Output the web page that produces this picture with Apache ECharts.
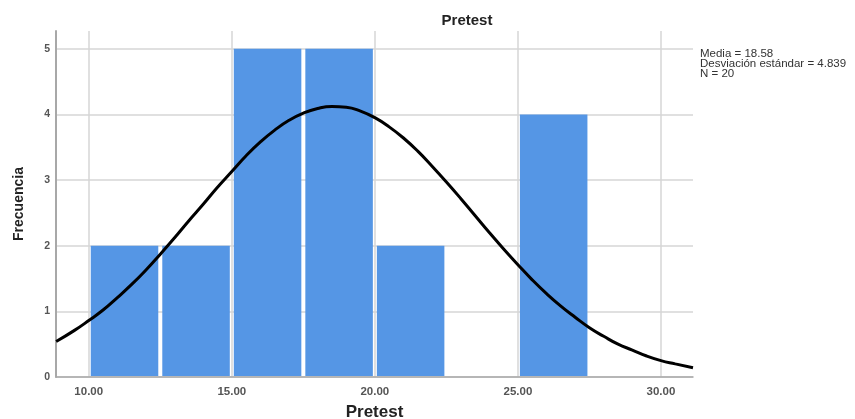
<!DOCTYPE html>
<html>
<head>
<meta charset="utf-8">
<script src="https://cdn.jsdelivr.net/npm/echarts@6/dist/echarts.min.js"></script>
<style>
  html, body { margin: 0; padding: 0; background: #fff; }
  #chart { width: 855px; height: 419px; }
</style>
</head>
<body>
<div id="chart"></div>
<script>
// histogram bins (lower edge, upper edge) and frequencies
const binStart = [10, 12.5, 15, 17.5, 20, 22.5, 25];
const binEnd = [12.5, 15, 17.5, 20, 22.5, 25, 27.5];
const frecuencia = [2, 2, 5, 5, 2, 0, 4];

// normal curve
const curveX = [8.86, 9.5, 10, 10.5, 11, 11.5, 12, 12.5, 13, 13.5, 14, 14.5, 15, 15.5, 16, 16.5, 17, 17.5, 18, 18.5, 19, 19.5, 20,
  20.5, 21, 21.5, 22, 22.5, 23, 23.5, 24, 24.5, 25, 25.5, 26, 26.5, 27, 27.5, 28, 28.5, 29, 29.5, 30, 30.5, 31.12];
const curveY = [0.54, 0.71, 0.86, 1.02, 1.21, 1.41, 1.63, 1.87, 2.12, 2.38, 2.63, 2.89, 3.13, 3.37, 3.58, 3.76, 3.91, 4.02, 4.09, 4.12, 4.11, 4.05, 3.95,
  3.81, 3.64, 3.44, 3.21, 2.97, 2.72, 2.46, 2.2, 1.95, 1.71, 1.48, 1.27, 1.08, 0.91, 0.75, 0.62, 0.5, 0.41, 0.32, 0.25, 0.2, 0.14];

const statsLines = ['Media = 18.58', 'Desviación estándar = 4.839', 'N = 20'];

const myChart = echarts.init(document.getElementById('chart'));

const gridColor = '#d6d6d6';

const options = {
  animation: false,
  title: {
    text: 'Pretest',
    left: 462,
    top: 8,
    textAlign: 'center',
    textStyle: {
      fontFamily: 'Liberation Sans, Arial',
      fontSize: 15,
      fontWeight: 'bold',
      color: '#222'
    }
  },
  grid: {
    left: 56,
    right: 162,
    top: 31,
    bottom: 42,
    outerBoundsMode: 'none'
  },
  xAxis: {
    type: 'value',
    min: 8.855,
    max: 31.12,
    name: 'Pretest',
    nameLocation: 'middle',
    nameGap: 27,
    nameTextStyle: {
      fontFamily: 'Liberation Sans, Arial',
      fontSize: 17,
      fontWeight: 'bold',
      color: '#222'
    },
    axisLine: { show: true, lineStyle: { color: '#a8a8a8', width: 1.5 } },
    axisTick: { show: false },
    axisLabel: {
      showMinLabel: false,
      showMaxLabel: false,
      margin: 9,
      fontFamily: 'Liberation Sans, Arial',
      fontSize: 11.5,
      fontWeight: 'bold',
      color: '#555',
      formatter: v => v.toFixed(2)
    },
    splitLine: {
      show: true,
      showMinLine: false,
      showMaxLine: false,
      lineStyle: { color: gridColor, width: 1.5 }
    }
  },
  yAxis: {
    type: 'value',
    min: 0,
    max: 5.27,
    interval: 1,
    name: 'Frecuencia',
    nameLocation: 'middle',
    nameGap: 30,
    nameTextStyle: {
      fontFamily: 'Liberation Sans, Arial',
      fontSize: 14,
      fontWeight: 'bold',
      color: '#222'
    },
    axisLine: { show: true, lineStyle: { color: '#a8a8a8', width: 2 } },
    axisTick: { show: false },
    axisLabel: {
      showMaxLabel: false,
      margin: 6,
      fontFamily: 'Liberation Sans, Arial',
      fontSize: 10.5,
      fontWeight: 'bold',
      color: '#555'
    },
    splitLine: {
      show: true,
      showMaxLine: false,
      lineStyle: { color: gridColor, width: 1.5 }
    }
  },
  graphic: [
    {
      type: 'text',
      left: 700,
      top: 48,
      style: {
        text: statsLines.join('\n'),
        fontFamily: 'Liberation Sans, Arial',
        fontSize: 11.5,
        lineHeight: 10,
        fill: '#333'
      }
    }
  ],
  series: [
    {
      type: 'custom',
      z: 2,
      data: binStart.map((s, i) => [s, binEnd[i], frecuencia[i]]),
      encode: { x: [0, 1], y: 2 },
      renderItem: (params, api) => {
        if (!api.value(2)) return null;
        const top = api.coord([api.value(0), api.value(2)]);
        const bottom = api.coord([api.value(1), 0]);
        return {
          type: 'rect',
          shape: {
            x: top[0] + 2,
            y: top[1],
            width: bottom[0] - top[0] - 4,
            height: bottom[1] - top[1] - 1
          },
          style: { fill: '#5596e5' }
        };
      }
    },
    {
      type: 'line',
      z: 3,
      smooth: 0.5,
      symbol: 'none',
      data: curveX.map((x, i) => [x, curveY[i]]),
      lineStyle: { color: '#000', width: 3 }
    }
  ]
};

myChart.setOption(options);
</script>
</body>
</html>
